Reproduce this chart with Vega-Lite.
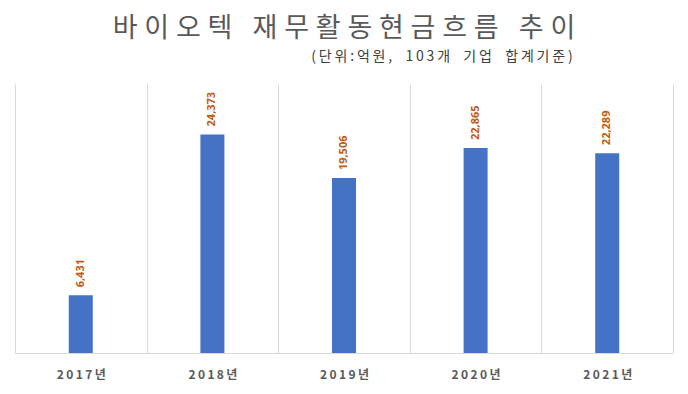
{
  "$schema": "https://vega.github.io/schema/vega-lite/v6.json",
  "width": 658,
  "height": 269,
  "autosize": {"type": "none"},
  "padding": {"left": 15, "right": 15, "top": 84, "bottom": 41},
  "background": "white",
  "title": {
    "text": "바\u2005이\u2005오\u2005텍\u2002\u2005재\u2005무\u2005활\u2005동\u2005현\u2005금\u2005흐\u2005름\u2002\u2005추\u2005이",
    "subtitle": "\u200b　　　　　　　　　　　　　　(\u2009단\u2009위\u2009:\u2009억\u2009원\u2009,\u2002\u2005\u20091\u20090\u20093\u2009개\u2002\u2005\u2009기\u2009업\u2002\u2005\u2009합\u2009계\u2009기\u2009준\u2009)",
    "anchor": "middle",
    "font": "Noto Sans CJK KR",
    "fontSize": 27,
    "fontWeight": "normal",
    "color": "#595959",
    "subtitleFont": "Noto Sans CJK KR",
    "subtitleFontSize": 14,
    "subtitleColor": "#404040",
    "subtitlePadding": 7,
    "offset": 19
  },
  "data": {
    "values": [
      {"year": "2017년", "value": 6431},
      {"year": "2018년", "value": 24373},
      {"year": "2019년", "value": 19506},
      {"year": "2020년", "value": 22865},
      {"year": "2021년", "value": 22289}
    ]
  },
  "encoding": {
    "x": {
      "field": "year",
      "type": "nominal",
      "sort": null,
      "scale": {"paddingInner": 0, "paddingOuter": 0},
      "axis": {
        "title": null,
        "labelAngle": 0,
        "labelExpr": "join(split(datum.label, ''), '\u2009')",
        "labelFont": "Noto Sans CJK KR",
        "labelFontSize": 12,
        "labelFontWeight": "bold",
        "labelColor": "#595959",
        "labelPadding": 16,
        "ticks": false,
        "grid": true,
        "gridColor": "#d9d9d9",
        "gridWidth": 1,
        "tickBand": "extent",
        "domainColor": "#d9d9d9",
        "domainWidth": 1
      }
    },
    "y": {
      "field": "value",
      "type": "quantitative",
      "scale": {"domain": [0, 30000], "nice": false},
      "axis": null
    }
  },
  "layer": [
    {"mark": {"type": "bar", "size": 24, "color": "#4472C4"}},
    {
      "mark": {
        "type": "text",
        "angle": 270,
        "align": "left",
        "baseline": "middle",
        "dx": 8,
        "font": "Noto Sans",
        "fontSize": 11,
        "fontWeight": "bold",
        "color": "#C55A11"
      },
      "encoding": {
        "text": {"field": "value", "type": "quantitative", "format": ","}
      }
    }
  ],
  "config": {"view": {"stroke": null}}
}
